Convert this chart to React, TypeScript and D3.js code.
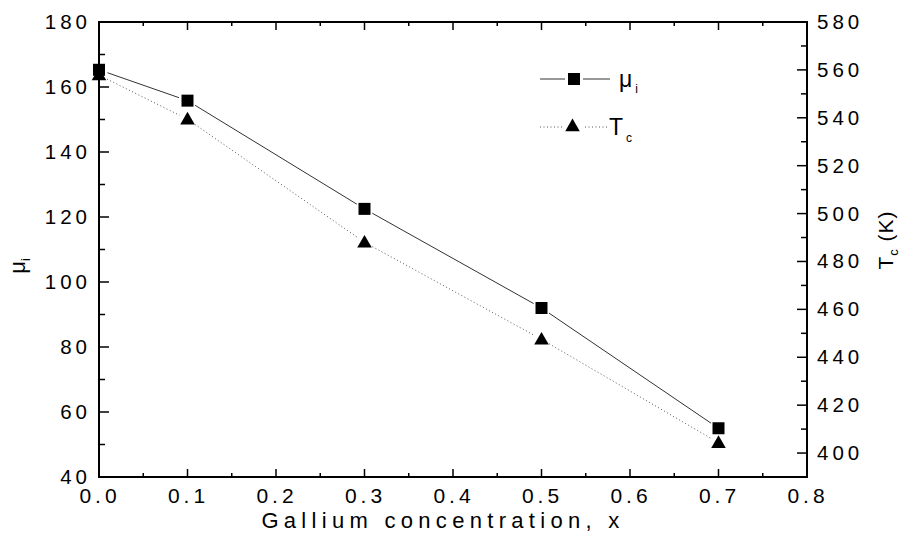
import React from 'react';
import * as d3 from 'd3';

const xValues = [0, 0.1, 0.3, 0.5, 0.7];
const muValues = [165.3, 155.8, 122.5, 92, 55];
const tcValues = [557.8, 539.4, 488, 447.5, 404.3];
const xTicks = [0, 0.1, 0.2, 0.3, 0.4, 0.5, 0.6, 0.7, 0.8];
const xMinor = [0.05, 0.15, 0.25, 0.35, 0.45, 0.55, 0.65, 0.75];
const leftTicks = [40, 60, 80, 100, 120, 140, 160, 180];
const leftMinor = [50, 70, 90, 110, 130, 150, 170];
const rightTicks = [400, 420, 440, 460, 480, 500, 520, 540, 560, 580];
const rightMinor = [410, 430, 450, 470, 490, 510, 530, 550, 570];

const FONT = '"Liberation Sans", Arial, Helvetica, sans-serif';

function segments(pts: [number, number][], gap: number) {
  const out: [number, number][][] = [];
  for (let i = 0; i < pts.length - 1; i++) {
    const [x0, y0] = pts[i];
    const [x1, y1] = pts[i + 1];
    const d = Math.hypot(x1 - x0, y1 - y0);
    const ux = (x1 - x0) / d, uy = (y1 - y0) / d;
    out.push([[x0 + ux * gap, y0 + uy * gap], [x1 - ux * gap, y1 - uy * gap]]);
  }
  return out;
}

export default function App() {
  const W = 909, H = 549;
  const L = 99, R = 807, T = 22, B = 477;
  const x = d3.scaleLinear().domain([0, 0.8]).range([L, R]);
  const yL = d3.scaleLinear().domain([40, 180]).range([B, T]);
  const yR = d3.scaleLinear().domain([390, 580]).range([B, T]);
  const line = d3.line<[number, number]>();
  const sq = d3.symbol().type(d3.symbolSquare).size(144)()!;
  const tri = d3.symbol().type(d3.symbolTriangle).size(92)()!;

  const muPts: [number, number][] = xValues.map((v, i) => [x(v), yL(muValues[i])]);
  const tcPts: [number, number][] = xValues.map((v, i) => [x(v), yR(tcValues[i])]);
  const ls = 4;

  return (
    <svg width={W} height={H} style={{ position: 'absolute', left: 0, top: 0, background: '#fff' }}
      fontFamily={FONT}>
      <rect x={0} y={0} width={W} height={H} fill="#fff" />
      {/* data lines */}
      {segments(muPts, 9).map((s, i) => (
        <path key={'m' + i} d={line(s)!} stroke="#333" strokeWidth={1} fill="none" />
      ))}
      {segments(tcPts, 9).map((s, i) => (
        <path key={'t' + i} d={line(s)!} stroke="#555" strokeWidth={1} strokeDasharray="1 2.5" fill="none" />
      ))}
      {tcPts.map((p, i) => (
        <path key={'tm' + i} d={tri} transform={`translate(${p[0]},${p[1] + 1})`} fill="#000" />
      ))}
      {muPts.map((p, i) => (
        <path key={'mm' + i} d={sq} transform={`translate(${p[0]},${p[1]})`} fill="#000" />
      ))}

      {/* frame */}
      <rect x={L} y={T} width={R - L} height={B - T} fill="none" stroke="#000" strokeWidth={2} />

      {/* x ticks */}
      {xTicks.map(t => (
        <g key={'xt' + t}>
          <line x1={x(t)} x2={x(t)} y1={B} y2={B - 8} stroke="#000" strokeWidth={1.5} />
          <line x1={x(t)} x2={x(t)} y1={T} y2={T + 8} stroke="#000" strokeWidth={1.5} />
          <text x={x(t) + ls / 2 - 1} y={503} textAnchor="middle" fontSize={21} letterSpacing={ls} fill="#000">
            {t.toFixed(1)}
          </text>
        </g>
      ))}
      {xMinor.map(t => (
        <g key={'xm' + t}>
          <line x1={x(t)} x2={x(t)} y1={B} y2={B - 4} stroke="#000" strokeWidth={1.5} />
          <line x1={x(t)} x2={x(t)} y1={T} y2={T + 4} stroke="#000" strokeWidth={1.5} />
        </g>
      ))}

      {/* left ticks */}
      {leftTicks.map(t => (
        <g key={'lt' + t}>
          <line x1={L} x2={L + 10} y1={yL(t)} y2={yL(t)} stroke="#000" strokeWidth={1.5} />
          <text x={87 + ls} y={yL(t) + 7} textAnchor="end" fontSize={20.5} letterSpacing={ls} fill="#000">
            {t}
          </text>
        </g>
      ))}
      {leftMinor.map(t => (
        <line key={'lm' + t} x1={L} x2={L + 6} y1={yL(t)} y2={yL(t)} stroke="#000" strokeWidth={1.5} />
      ))}

      {/* right ticks */}
      {rightTicks.map(t => (
        <g key={'rt' + t}>
          <line x1={R} x2={R - 10} y1={yR(t)} y2={yR(t)} stroke="#000" strokeWidth={1.5} />
          <text x={817} y={yR(t) + 7} textAnchor="start" fontSize={20.5} letterSpacing={ls} fill="#000">
            {t}
          </text>
        </g>
      ))}
      {rightMinor.map(t => (
        <line key={'rm' + t} x1={R} x2={R - 6} y1={yR(t)} y2={yR(t)} stroke="#000" strokeWidth={1.5} />
      ))}

      {/* axis titles */}
      <text x={443} y={528} textAnchor="middle" fontSize={22} letterSpacing={5.3} fill="#000">
        Gallium concentration, x
      </text>
      <text transform="translate(25,266) rotate(-90)" textAnchor="middle" fontSize={22} fill="#000">
        μ<tspan fontSize={13} dy={5}>i</tspan>
      </text>
      <text transform="translate(893,240) rotate(-90)" textAnchor="middle" fontSize={21} letterSpacing={1} fill="#000">
        T<tspan fontSize={13} dy={5}>c</tspan><tspan dy={-5}> (K)</tspan>
      </text>

      {/* legend */}
      <line x1={540} x2={565} y1={79} y2={79} stroke="#333" strokeWidth={1} />
      <line x1={583} x2={610} y1={79} y2={79} stroke="#333" strokeWidth={1} />
      <path d={sq} transform="translate(574,79)" fill="#000" />
      <text x={619} y={87} fontSize={23} fill="#000">
        μ<tspan fontSize={12} dy={6} dx={3}>i</tspan>
      </text>
      <line x1={540} x2={562} y1={127} y2={127} stroke="#555" strokeWidth={1} strokeDasharray="1 2.5" />
      <line x1={585} x2={608} y1={127} y2={127} stroke="#555" strokeWidth={1} strokeDasharray="1 2.5" />
      <path d={tri} transform="translate(572.5,127)" fill="#000" />
      <text x={609} y={135} fontSize={23} fill="#000">
        T<tspan fontSize={12} dy={7} dx={3}>c</tspan>
      </text>
    </svg>
  );
}
